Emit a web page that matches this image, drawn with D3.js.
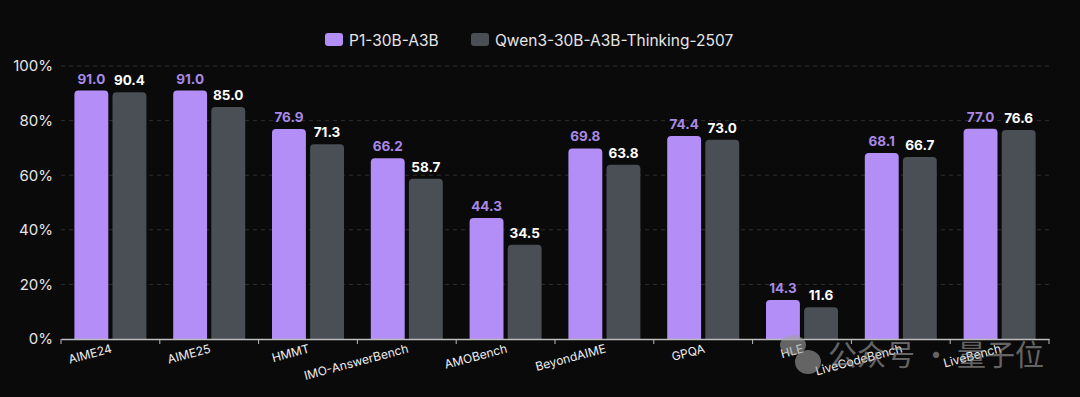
<!DOCTYPE html>
<html>
<head>
<meta charset="utf-8">
<script src="https://cdn.jsdelivr.net/npm/d3@7"></script>
<style>
  html, body { margin: 0; padding: 0; background: #0a0a0a; }
  svg { display: block; font-family: "Inter", "Liberation Sans", sans-serif; }
</style>
</head>
<body>
<div id="chart"></div>
<script>
// Chart data
var categories = ["AIME24", "AIME25", "HMMT", "IMO-AnswerBench", "AMOBench",
                  "BeyondAIME", "GPQA", "HLE", "LiveCodeBench", "LiveBench"];
var seriesNames = ["P1-30B-A3B", "Qwen3-30B-A3B-Thinking-2507"];
var p1Values = [91.0, 91.0, 76.9, 66.2, 44.3, 69.8, 74.4, 14.3, 68.1, 77.0];
var qwenValues = [90.4, 85.0, 71.3, 58.7, 34.5, 63.8, 73.0, 11.6, 66.7, 76.6];
var yTicks = [0, 20, 40, 60, 80, 100];

var colors = ["#b28ef6", "#4a4f56"];
var labelColors = ["#a88ae6", "#ffffff"];

var svgWidth = 1080;
var svgHeight = 397;
var margin = { top: 66, right: 31, bottom: 58, left: 61 };
var width = svgWidth - margin.left - margin.right;
var height = svgHeight - margin.top - margin.bottom;

var svg = d3.select("#chart")
  .append("svg")
  .attr("width", svgWidth)
  .attr("height", svgHeight);

svg.append("rect")
  .attr("width", svgWidth)
  .attr("height", svgHeight)
  .attr("fill", "#0a0a0a");

var chartGroup = svg.append("g")
  .attr("transform", `translate(${margin.left}, ${margin.top})`);

// scales
var xScale = d3.scaleBand()
  .domain(categories)
  .range([0, width]);

var bw = xScale.bandwidth();
var xInner = d3.scaleBand()
  .domain([0, 1])
  .range([bw / 2 - 36, bw / 2 + 36])
  .paddingInner(0.11);

var yScale = d3.scaleLinear()
  .domain([0, 100])
  .range([height, 0]);

// gridlines
chartGroup.selectAll(".grid")
  .data(yTicks.filter(d => d > 0))
  .enter()
  .append("line")
  .attr("x1", 0)
  .attr("x2", width)
  .attr("y1", d => yScale(d))
  .attr("y2", d => yScale(d))
  .attr("stroke", "#2e2e2e")
  .attr("stroke-dasharray", "4,4");

// y axis labels
var leftAxis = d3.axisLeft(yScale)
  .tickValues(yTicks)
  .tickSize(0)
  .tickPadding(8)
  .tickFormat(d => d + "%");

var yAxis = chartGroup.append("g").call(leftAxis);
yAxis.select(".domain").remove();
yAxis.selectAll("text")
  .attr("fill", "#e6e6e6")
  .attr("font-size", "15px")
  .attr("font-family", "Inter, Liberation Sans, sans-serif");

// bars
var rows = categories.map((c, i) => ({ cat: c, vals: [p1Values[i], qwenValues[i]] }));

var groups = chartGroup.selectAll(".cat")
  .data(rows)
  .enter()
  .append("g")
  .attr("transform", d => `translate(${xScale(d.cat)}, 0)`);

function topRounded(x, y, w, h, r) {
  return `M${x},${y + h}V${y + r}Q${x},${y} ${x + r},${y}H${x + w - r}Q${x + w},${y} ${x + w},${y + r}V${y + h}Z`;
}

groups.selectAll("path")
  .data(d => d.vals.map((v, k) => ({ v: v, k: k })))
  .enter()
  .append("path")
  .attr("d", d => topRounded(xInner(d.k), yScale(d.v), xInner.bandwidth(), height - yScale(d.v), 4))
  .attr("fill", d => colors[d.k]);

groups.selectAll(".val")
  .data(d => d.vals.map((v, k) => ({ v: v, k: k })))
  .enter()
  .append("text")
  .attr("x", d => xInner(d.k) + xInner.bandwidth() / 2)
  .attr("y", d => yScale(d.v) - 7)
  .attr("text-anchor", "middle")
  .attr("font-size", "13.5px")
  .attr("font-weight", "bold")
  .attr("fill", d => labelColors[d.k])
  .text(d => d.v.toFixed(1));

// x axis
var bottomAxis = d3.axisBottom(xScale).tickSize(0).tickFormat("");
var xAxis = chartGroup.append("g")
  .attr("transform", `translate(0, ${height})`)
  .call(bottomAxis);
xAxis.select(".domain").attr("stroke", "#bdbdbd").attr("stroke-width", 1.5);

// boundary ticks
chartGroup.selectAll(".btick")
  .data(categories.concat(["end"]))
  .enter()
  .append("line")
  .attr("x1", (d, i) => i * bw)
  .attr("x2", (d, i) => i * bw)
  .attr("y1", height)
  .attr("y2", height + 5)
  .attr("stroke", "#bdbdbd");

// category labels
chartGroup.selectAll(".xlab")
  .data(categories)
  .enter()
  .append("text")
  .attr("transform", d => `translate(${xScale(d) + bw / 2}, ${height + 5}) rotate(-15)`)
  .attr("text-anchor", "end")
  .attr("dy", "0.71em")
  .attr("font-size", "12px")
  .attr("fill", "#f0f0f0")
  .text(d => d);

// legend
var legend = svg.append("g").attr("transform", "translate(325, 33)");
var legendX = [0, 146];
seriesNames.forEach((name, i) => {
  legend.append("rect")
    .attr("x", legendX[i])
    .attr("y", 0)
    .attr("width", 18)
    .attr("height", 13)
    .attr("rx", 3)
    .attr("fill", colors[i]);
  legend.append("text")
    .attr("x", legendX[i] + 24)
    .attr("y", 12.5)
    .attr("font-size", "15.5px")
    .attr("fill", "#e6e6e6")
    .text(name);
});

// watermark
var wm = svg.append("g").attr("opacity", 0.6);
wm.append("ellipse").attr("cx", 793).attr("cy", 345).attr("rx", 13).attr("ry", 10).attr("fill", "#a0a0a0");
wm.append("ellipse").attr("cx", 808).attr("cy", 362).attr("rx", 13).attr("ry", 12).attr("fill", "#a0a0a0");
wm.append("text")
  .attr("x", 828)
  .attr("y", 366)
  .attr("font-size", "29px")
  .attr("font-family", "Noto Sans CJK SC, sans-serif")
  .attr("fill", "#a0a0a0")
  .text("公众号 · 量子位");
</script>
</body>
</html>
